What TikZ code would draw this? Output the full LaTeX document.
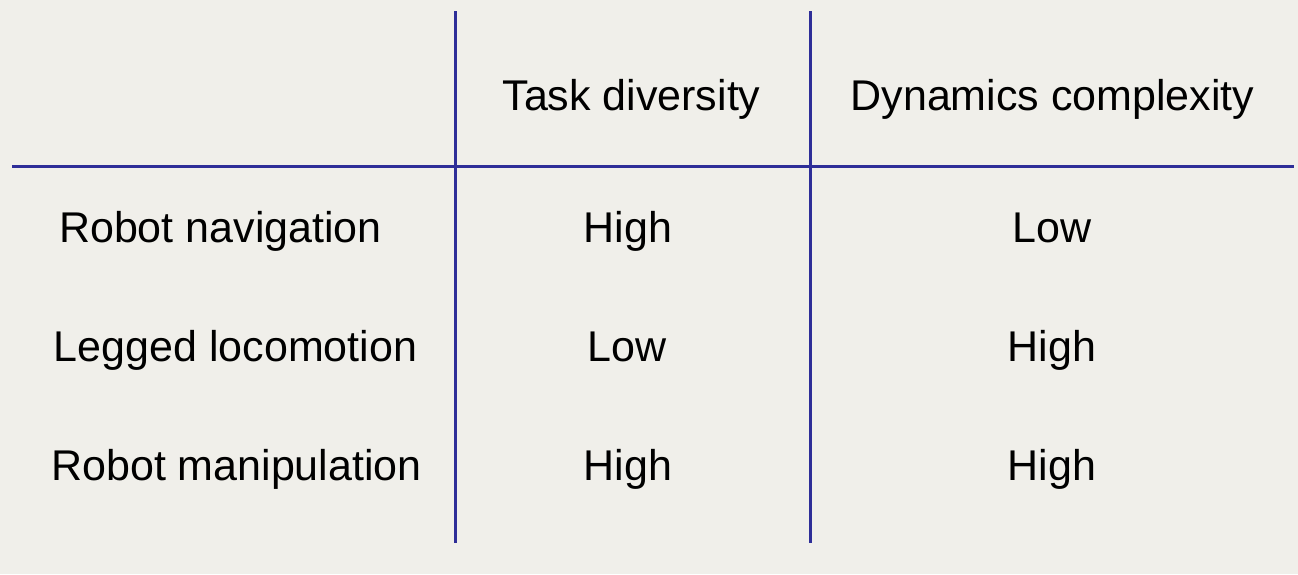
\documentclass[tikz,border=0pt]{standalone}
\usepackage{fontspec}
\setmainfont{Liberation Sans}
\definecolor{bgpaper}{RGB}{240,239,234}
\definecolor{rulecol}{RGB}{46,46,152}
\definecolor{shadowcol}{RGB}{150,150,150}
\begin{document}
\begin{tikzpicture}[x=1pt,y=-1pt,
  cell/.style={anchor=base,inner sep=0pt,font=\fontsize{43}{50}\selectfont,text=black},
  rulestyle/.style={draw=rulecol,line width=3pt},
  shadowstyle/.style={draw=shadowcol,line width=3pt,opacity=0.6}]
\fill[bgpaper] (0,0) rectangle (1298,574);
\useasboundingbox (0,0) rectangle (1298,574);
% coordinates of rules
\coordinate (hl) at (12,166);
\coordinate (hr) at (1294,166);
\coordinate (v1t) at (455,11);
\coordinate (v1b) at (455,543);
\coordinate (v2t) at (810,11);
\coordinate (v2b) at (810,543);
% shadows
\begin{scope}[shift={(2,2.5)}]
\draw[shadowstyle] (hl) -- (hr);
\draw[shadowstyle] (v1t) -- (v1b);
\draw[shadowstyle] (v2t) -- (v2b);
\end{scope}
% rules
\draw[rulestyle] (hl) -- (hr);
\draw[rulestyle] (v1t) -- (v1b);
\draw[rulestyle] (v2t) -- (v2b);
% header
\node[cell] (h1) at (631.5,110) {Task diversity};
\node[cell] (h2) at (1052.5,110) {Dynamics complexity};
% rows
\node[cell] (r1) at (220.5,242) {Robot navigation};
\node[cell] (r2) at (235.5,361.5) {Legged locomotion};
\node[cell] (r3) at (236.5,480.5) {Robot manipulation};
\node[cell] (a1) at (628,242) {High};
\node[cell] (b1) at (1052,242) {Low};
\node[cell] (a2) at (627,361.5) {Low};
\node[cell] (b2) at (1052,361.5) {High};
\node[cell] (a3) at (628,480.5) {High};
\node[cell] (b3) at (1052,480.5) {High};
\end{tikzpicture}
\end{document}
